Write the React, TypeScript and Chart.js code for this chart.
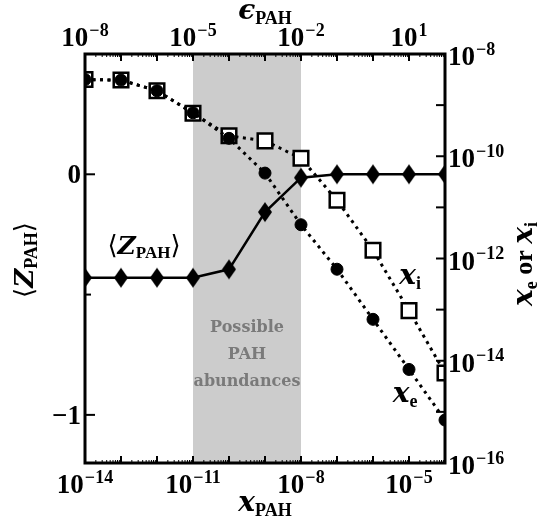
import React, { useEffect, useRef } from 'react';
import { Chart, registerables } from 'chart.js';

Chart.register(...registerables);

// ---- data ----
const xPAH = [1e-14, 1e-13, 1e-12, 1e-11, 1e-10, 1e-9, 1e-8, 1e-7, 1e-6, 1e-5, 1e-4];
const zPAH = [-0.43, -0.43, -0.43, -0.43, -0.395, -0.157, -0.014, 0, 0, 0, 0];
const xE = [3.16e-9, 3.09e-9, 1.91e-9, 7.08e-10, 2.24e-10, 4.68e-11, 4.57e-12, 6.17e-13, 6.46e-14, 6.76e-15, 6.92e-16];
const xI = [3.16e-9, 3.09e-9, 1.91e-9, 6.92e-10, 2.51e-10, 2.0e-10, 9.12e-11, 1.38e-11, 1.45e-12, 9.55e-14, 5.75e-15];

const bandRange = [1e-11, 1e-8];
const bottomTickExps = [-14, -11, -8, -5];
const topTickExps = [-8, -5, -2, 1];
const leftTicks = [0, -1];
const leftTickLabels = ['0', '−1'];
const rightTickExps = [-8, -10, -12, -14, -16];
const bandText = ['Possible', 'PAH', 'abundances'];

const TICK_FONT = 'bold 27px "Liberation Serif"';
const SUP_FONT = 'bold 18px "Liberation Serif"';
const MATH_FONT = 'bold italic 28px "DejaVu Serif"';
const SUB_FONT = 'bold 18px "Liberation Serif"';
const BRACKET_FONT = '26px "DejaVu Sans"';

type Part = { t: string; f: string; dy?: number };

function drawRich(ctx: CanvasRenderingContext2D, parts: Part[], cx: number, cy: number) {
  let total = 0;
  for (const p of parts) { ctx.font = p.f; total += ctx.measureText(p.t).width; }
  let x = cx - total / 2;
  ctx.textAlign = 'left';
  ctx.textBaseline = 'alphabetic';
  for (const p of parts) {
    ctx.font = p.f;
    ctx.fillText(p.t, x, cy + (p.dy || 0));
    x += ctx.measureText(p.t).width;
  }
}

function drawPow(ctx: CanvasRenderingContext2D, exp: string, x: number, y: number, align: 'center' | 'left') {
  ctx.font = TICK_FONT;
  const wb = ctx.measureText('10').width;
  ctx.font = SUP_FONT;
  const ws = ctx.measureText(exp).width;
  const total = wb + ws + 1;
  const x0 = align === 'center' ? x - total / 2 : x;
  ctx.textAlign = 'left';
  ctx.textBaseline = 'alphabetic';
  ctx.font = TICK_FONT;
  ctx.fillText('10', x0, y + 9);
  ctx.font = SUP_FONT;
  ctx.fillText(exp, x0 + wb + 1, y - 1.5);
}

const expStr = (e: number) => (e < 0 ? '−' + Math.abs(e) : String(e));

function makeDiamond(): HTMLCanvasElement {
  const c = document.createElement('canvas');
  c.width = 16; c.height = 22;
  const g = c.getContext('2d')!;
  g.fillStyle = '#000';
  g.beginPath();
  g.moveTo(8, 1); g.lineTo(15, 11); g.lineTo(8, 21); g.lineTo(1, 11); g.closePath();
  g.fill();
  return c;
}

const decorPlugin = {
  id: 'decor',
  beforeDatasetsDraw(chart: any) {
    const { ctx, chartArea } = chart;
    const sx = chart.scales.x;
    const x0 = sx.getPixelForValue(bandRange[0]);
    const x1 = sx.getPixelForValue(bandRange[1]);
    ctx.save();
    ctx.fillStyle = '#cccccc';
    ctx.fillRect(x0, chartArea.top, x1 - x0, chartArea.bottom - chartArea.top);
    ctx.fillStyle = '#7a7a7a';
    ctx.font = 'bold 16px "DejaVu Serif"';
    ctx.textAlign = 'center';
    ctx.textBaseline = 'middle';
    const cx = sx.getPixelForValue(Math.sqrt(bandRange[0] * bandRange[1]));
    const sy = chart.scales.y;
    const ys = [-0.639, -0.751, -0.863];
    bandText.forEach((t, i) => ctx.fillText(t, cx, sy.getPixelForValue(ys[i])));
    ctx.restore();
  },
  afterDatasetsDraw(chart: any) {
    const { ctx } = chart;
    const sx = chart.scales.x, sy = chart.scales.y, sy2 = chart.scales.y2;
    ctx.save();
    ctx.fillStyle = '#000';
    drawRich(ctx, [
      { t: '⟨', f: BRACKET_FONT },
      { t: 'Z', f: 'bold italic 25px "DejaVu Serif"' },
      { t: 'PAH', f: 'bold 17px "Liberation Serif"', dy: 4 },
      { t: '⟩', f: BRACKET_FONT },
    ], sx.getPixelForValue(Math.pow(10, -12.36)), sy.getPixelForValue(-0.33));
    drawRich(ctx, [
      { t: 'x', f: MATH_FONT },
      { t: 'i', f: SUB_FONT, dy: 5 },
    ], sx.getPixelForValue(Math.pow(10, -4.97)), sy2.getPixelForValue(Math.pow(10, -12.5)));
    drawRich(ctx, [
      { t: 'x', f: MATH_FONT },
      { t: 'e', f: SUB_FONT, dy: 5 },
    ], sx.getPixelForValue(Math.pow(10, -5.11)), sy2.getPixelForValue(Math.pow(10, -14.8)));
    ctx.restore();
  },
  afterDraw(chart: any) {
    const { ctx, chartArea } = chart;
    const { left, right, top, bottom } = chartArea;
    const sx = chart.scales.x, sxt = chart.scales.xTop, sy = chart.scales.y, sy2 = chart.scales.y2;
    ctx.save();
    ctx.strokeStyle = '#000';
    ctx.fillStyle = '#000';
    ctx.lineWidth = 2;
    const line = (x1: number, y1: number, x2: number, y2: number) => {
      ctx.beginPath(); ctx.moveTo(x1, y1); ctx.lineTo(x2, y2); ctx.stroke();
    };
    for (let e = -14; e <= -4; e++) {
      const px = sx.getPixelForValue(Math.pow(10, e));
      line(px, bottom, px, bottom - 7);
      if (e < -4) for (let m = 2; m <= 9; m++) {
        const p = sx.getPixelForValue(m * Math.pow(10, e));
        ctx.lineWidth = 1; line(p, bottom, p, bottom - 3); ctx.lineWidth = 2;
      }
    }
    for (let e = -8; e <= 2; e++) {
      const px = sxt.getPixelForValue(Math.pow(10, e));
      line(px, top, px, top + 7);
      if (e < 2) for (let m = 2; m <= 9; m++) {
        const p = sxt.getPixelForValue(m * Math.pow(10, e));
        ctx.lineWidth = 1; line(p, top, p, top + 3); ctx.lineWidth = 2;
      }
    }
    leftTicks.forEach((v) => { const p = sy.getPixelForValue(v); line(left, p, left + 10, p); });
    [-0.5].forEach((v) => { const p = sy.getPixelForValue(v); line(left, p, left + 6, p); });
    for (let e = -16; e <= -8; e++) {
      const p = sy2.getPixelForValue(Math.pow(10, e));
      line(right, p, right - 9, p);
    }
    ctx.lineWidth = 3;
    ctx.strokeRect(left, top, right - left, bottom - top);

    bottomTickExps.forEach((e) => drawPow(ctx, expStr(e), sx.getPixelForValue(Math.pow(10, e)), bottom + 21, 'center'));
    topTickExps.forEach((e) => drawPow(ctx, expStr(e), sxt.getPixelForValue(Math.pow(10, e)), top - 17, 'center'));
    rightTickExps.forEach((e) => drawPow(ctx, expStr(e), right + 3, sy2.getPixelForValue(Math.pow(10, e)) + 2, 'left'));
    ctx.font = TICK_FONT;
    ctx.textAlign = 'right';
    ctx.textBaseline = 'alphabetic';
    leftTicks.forEach((v, i) => ctx.fillText(leftTickLabels[i], left - 4, sy.getPixelForValue(v) + 9));

    const cxp = (left + right) / 2;
    drawRich(ctx, [
      { t: 'x', f: MATH_FONT },
      { t: 'PAH', f: SUB_FONT, dy: 5 },
    ], cxp, 511);
    drawRich(ctx, [
      { t: 'ϵ', f: MATH_FONT },
      { t: 'PAH', f: SUB_FONT, dy: 5 },
    ], cxp, 19);
    ctx.save();
    ctx.translate(24, 260);
    ctx.rotate(-Math.PI / 2);
    drawRich(ctx, [
      { t: '⟨', f: BRACKET_FONT },
      { t: 'Z', f: 'bold italic 26px "DejaVu Serif"' },
      { t: 'PAH', f: SUB_FONT, dy: 4 },
      { t: '⟩', f: BRACKET_FONT },
    ], 0, 9);
    ctx.restore();
    ctx.save();
    ctx.translate(524, 264);
    ctx.rotate(-Math.PI / 2);
    drawRich(ctx, [
      { t: 'x', f: MATH_FONT },
      { t: 'e', f: SUB_FONT, dy: 5 },
      { t: ' or ', f: 'bold 26px "Liberation Serif"' },
      { t: 'x', f: MATH_FONT },
      { t: 'i', f: SUB_FONT, dy: 5 },
    ], 0, 8);
    ctx.restore();
    ctx.restore();
  },
};

export default function App() {
  const ref = useRef<HTMLCanvasElement>(null);
  useEffect(() => {
    if (!ref.current) return;
    const diamond = makeDiamond();
    const chart = new Chart(ref.current, {
      type: 'line',
      data: {
        datasets: [
          {
            label: 'Z',
            data: xPAH.map((x, i) => ({ x, y: zPAH[i] })),
            yAxisID: 'y',
            borderColor: '#000',
            borderWidth: 2.5,
            pointStyle: diamond as any,
            pointRadius: 8,
            order: 0,
            clip: 0 as any,
          },
          {
            label: 'xe',
            data: xPAH.map((x, i) => ({ x, y: xE[i] })),
            yAxisID: 'y2',
            borderColor: '#000',
            borderWidth: 3,
            borderDash: [3, 4.5],
            pointStyle: 'circle',
            pointRadius: 6,
            pointBorderWidth: 1,
            pointBackgroundColor: '#000',
            pointBorderColor: '#000',
            order: 1,
            clip: 0 as any,
          },
          {
            label: 'xi',
            data: xPAH.map((x, i) => ({ x, y: xI[i] })),
            yAxisID: 'y2',
            borderColor: '#000',
            borderWidth: 3,
            borderDash: [3, 4.5],
            pointStyle: 'rect',
            pointRadius: 10.3,
            pointBorderWidth: 2.5,
            pointBackgroundColor: '#fff',
            pointBorderColor: '#000',
            order: 2,
            clip: 0 as any,
          },
        ],
      },
      options: {
        responsive: false,
        animation: false,
        devicePixelRatio: 1,
        layout: { padding: { left: 85, right: 92, top: 54, bottom: 63 } },
        plugins: { legend: { display: false }, tooltip: { enabled: false } },
        scales: {
          x: { type: 'logarithmic', position: 'bottom', min: 1e-14, max: 1e-4, display: false },
          xTop: { type: 'logarithmic', position: 'top', min: 1e-8, max: 1e2, display: false },
          y: { type: 'linear', position: 'left', min: -1.2, max: 0.5, display: false },
          y2: { type: 'logarithmic', position: 'right', min: 1e-16, max: 1e-8, display: false },
        },
      },
      plugins: [decorPlugin],
    });
    return () => chart.destroy();
  }, []);
  return (
    <div style={{ position: 'absolute', left: 0, top: 0, width: 537, height: 526, background: '#fff' }}>
      <canvas ref={ref} width={537} height={526} style={{ width: 537, height: 526, display: 'block' }} />
    </div>
  );
}
